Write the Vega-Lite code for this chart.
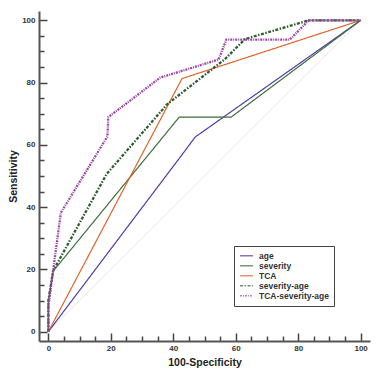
{
  "$schema": "https://vega.github.io/schema/vega-lite/v6.json",
  "autosize": "none",
  "width": 331,
  "height": 330,
  "padding": {"left": 39, "top": 11, "right": 21, "bottom": 34},
  "background": "white",
  "config": {
    "view": {"stroke": null},
    "font": "Liberation Sans"
  },
  "datasets": {
    "roc": [
      {"series": "age", "o": 0, "x": 0, "y": 0},
      {"series": "age", "o": 1, "x": 43.3, "y": 57.5},
      {"series": "age", "o": 2, "x": 47, "y": 62.5},
      {"series": "age", "o": 3, "x": 100, "y": 100},
      {"series": "severity", "o": 0, "x": 0, "y": 0},
      {"series": "severity", "o": 1, "x": 0, "y": 10},
      {"series": "severity", "o": 2, "x": 1.6, "y": 19.5},
      {"series": "severity", "o": 3, "x": 41.9, "y": 68.9},
      {"series": "severity", "o": 4, "x": 58.5, "y": 68.9},
      {"series": "severity", "o": 5, "x": 100, "y": 100},
      {"series": "TCA", "o": 0, "x": 0, "y": 0},
      {"series": "TCA", "o": 1, "x": 42.8, "y": 81.3},
      {"series": "TCA", "o": 2, "x": 100, "y": 100},
      {"series": "severity-age", "o": 0, "x": 0, "y": 0},
      {"series": "severity-age", "o": 1, "x": 0, "y": 10},
      {"series": "severity-age", "o": 2, "x": 1.5, "y": 19.5},
      {"series": "severity-age", "o": 3, "x": 18.7, "y": 50.7},
      {"series": "severity-age", "o": 4, "x": 38, "y": 73},
      {"series": "severity-age", "o": 5, "x": 56.5, "y": 87.5},
      {"series": "severity-age", "o": 6, "x": 63, "y": 94},
      {"series": "severity-age", "o": 7, "x": 83.4, "y": 100},
      {"series": "severity-age", "o": 8, "x": 100, "y": 100},
      {"series": "TCA-severity-age", "o": 0, "x": 0, "y": 0},
      {"series": "TCA-severity-age", "o": 1, "x": 0, "y": 8},
      {"series": "TCA-severity-age", "o": 2, "x": 1.5, "y": 19.5},
      {"series": "TCA-severity-age", "o": 3, "x": 4, "y": 38.2},
      {"series": "TCA-severity-age", "o": 4, "x": 18.9, "y": 62.7},
      {"series": "TCA-severity-age", "o": 5, "x": 19.2, "y": 68.9},
      {"series": "TCA-severity-age", "o": 6, "x": 35.8, "y": 81.6},
      {"series": "TCA-severity-age", "o": 7, "x": 54.5, "y": 87.4},
      {"series": "TCA-severity-age", "o": 8, "x": 57, "y": 93.8},
      {"series": "TCA-severity-age", "o": 9, "x": 77.3, "y": 93.8},
      {"series": "TCA-severity-age", "o": 10, "x": 83.4, "y": 100},
      {"series": "TCA-severity-age", "o": 11, "x": 100, "y": 100}
    ],
    "diag": [
      {"x": 0, "y": 0},
      {"x": 100, "y": 100}
    ]
  },
  "encoding": {
    "x": {
      "field": "x", "type": "quantitative",
      "scale": {"domain": [-3, 103], "nice": false, "zero": false},
      "axis": {
        "title": "100-Specificity",
        "values": [0,5,10,15,20,25,30,35,40,45,50,55,60,65,70,75,80,85,90,95,100],
        "labelExpr": "datum.value % 20 === 0 ? datum.label : ''",
        "grid": false,
        "ticks": true,
        "domainColor": "#555555", "domainWidth": 2,
        "tickColor": "#444444", "tickWidth": 1.5,
        "tickSize": {"condition": {"test": "datum.value % 20 === 0", "value": -8}, "value": -5},
        "labelPadding": 11,
        "labelFontSize": 8, "labelFontWeight": "bold", "labelColor": "#333333",
        "titleFontSize": 10.5, "titleFontWeight": "bold", "titleColor": "#222222",
        "titlePadding": 5
      }
    },
    "y": {
      "field": "y", "type": "quantitative",
      "scale": {"domain": [-3, 103], "nice": false, "zero": false},
      "axis": {
        "title": "Sensitivity",
        "values": [0,5,10,15,20,25,30,35,40,45,50,55,60,65,70,75,80,85,90,95,100],
        "labelExpr": "datum.value % 20 === 0 ? datum.label : ''",
        "grid": false,
        "ticks": true,
        "domainColor": "#555555", "domainWidth": 2,
        "tickColor": "#444444", "tickWidth": 1.5,
        "tickSize": {"condition": {"test": "datum.value % 20 === 0", "value": -8}, "value": -5},
        "labelPadding": 12,
        "labelFontSize": 8, "labelFontWeight": "bold", "labelColor": "#333333",
        "titleFontSize": 10.5, "titleFontWeight": "bold", "titleColor": "#222222",
        "titlePadding": 3
      }
    }
  },
  "layer": [
    {
      "data": {"name": "diag"},
      "mark": {"type": "line", "color": "#e2e2e2", "strokeWidth": 0.8},
      "encoding": {}
    },
    {
      "data": {"name": "roc"},
      "transform": [{"filter": "datum.series === 'age' || datum.series === 'severity' || datum.series === 'TCA'"}],
      "mark": {"type": "line", "strokeWidth": 1.2},
      "encoding": {
        "order": {"field": "o", "type": "quantitative"},
        "color": {"field": "series", "type": "nominal"},
        "strokeDash": {"field": "series", "type": "nominal"}
      }
    },
    {
      "data": {"name": "roc"},
      "transform": [{"filter": "datum.series === 'severity-age' || datum.series === 'TCA-severity-age'"}],
      "mark": {"type": "line", "strokeWidth": 2.3},
      "encoding": {
        "order": {"field": "o", "type": "quantitative"},
        "color": {
          "field": "series", "type": "nominal",
          "scale": {
            "domain": ["age", "severity", "TCA", "severity-age", "TCA-severity-age"],
            "range": ["#4b3fa6", "#3f6f3f", "#e0642c", "#2f5f2f", "#9b45a6"]
          },
          "legend": {
            "title": null,
            "orient": "none",
            "legendX": 195,
            "legendY": 235,
            "fillColor": "white",
            "strokeColor": "#444444",
            "padding": 5,
            "labelFontSize": 8.5,
            "labelFontWeight": "bold",
            "labelColor": "#333333",
            "symbolSize": 170,
            "symbolStrokeWidth": 1.5,
            "symbolOpacity": 0.7,
            "clipHeight": 9.5,
            "rowPadding": 0,
            "labelOffset": 5
          }
        },
        "strokeDash": {
          "field": "series", "type": "nominal",
          "scale": {
            "domain": ["age", "severity", "TCA", "severity-age", "TCA-severity-age"],
            "range": [[1, 0], [1, 0], [1, 0], [3, 1.5, 1.5, 1.5], [2, 1, 1, 1]]
          }
        }
      }
    }
  ]
}
